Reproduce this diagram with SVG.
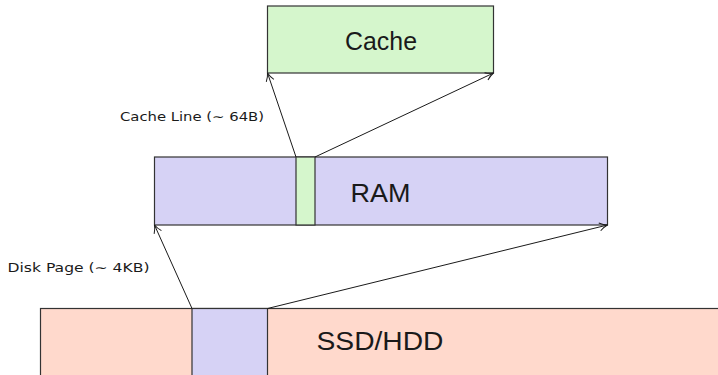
<svg xmlns="http://www.w3.org/2000/svg" width="718" height="375" viewBox="0 0 718 375">
<style>
.box{stroke:#333;stroke-width:1.2}
.big{font-family:"Liberation Sans","DejaVu Sans",sans-serif;font-size:26px;fill:#1a1a1a}
.lbl{font-family:"DejaVu Sans","Liberation Sans",sans-serif;font-size:12.5px;fill:#1a1a1a}
.conn{stroke:#1a1a1a;stroke-width:1;fill:none;marker-end:url(#ah)}
</style>
<defs>
<marker id="ah" viewBox="0 0 10 10" refX="9" refY="5" markerWidth="10" markerHeight="10" markerUnits="userSpaceOnUse" orient="auto">
<path d="M1,1 Q5,4 9,5 Q5,6 1,9" fill="none" stroke="#1a1a1a" stroke-width="1"/>
</marker>
</defs>
<rect width="718" height="375" fill="#fff"/>
<g id="ssd">
<rect class="box" x="40.5" y="308.5" width="690" height="80" fill="#ffd9cc"/>
<rect class="box" x="192" y="308.5" width="75.5" height="80" fill="#d6d2f5"/>
<text class="big" x="316.5" y="350" textLength="127" lengthAdjust="spacingAndGlyphs">SSD/HDD</text>
</g>
<g id="ram">
<rect class="box" x="154.5" y="157" width="453" height="68" fill="#d6d2f5"/>
<rect class="box" x="296" y="157" width="19" height="68" fill="#d5f6cc"/>
<text class="big" x="350.5" y="202" textLength="60" lengthAdjust="spacingAndGlyphs">RAM</text>
</g>
<g id="cache">
<rect class="box" x="267.5" y="6" width="226" height="67" fill="#d5f6cc"/>
<text class="big" x="345" y="49.5" textLength="72" lengthAdjust="spacingAndGlyphs">Cache</text>
</g>
<g id="labels">
<text class="lbl" x="120" y="120.5" textLength="144" lengthAdjust="spacingAndGlyphs">Cache Line (∼ 64B)</text>
<text class="lbl" x="7.5" y="271.5" textLength="142" lengthAdjust="spacingAndGlyphs">Disk Page (∼ 4KB)</text>
</g>
<g id="connectors">
<line class="conn" x1="192" y1="308.5" x2="154.5" y2="225"/>
<line class="conn" x1="267.5" y1="308.5" x2="607.5" y2="225"/>
<line class="conn" x1="296" y1="157" x2="267.5" y2="73"/>
<line class="conn" x1="315" y1="157" x2="493.5" y2="73"/>
</g>
</svg>
